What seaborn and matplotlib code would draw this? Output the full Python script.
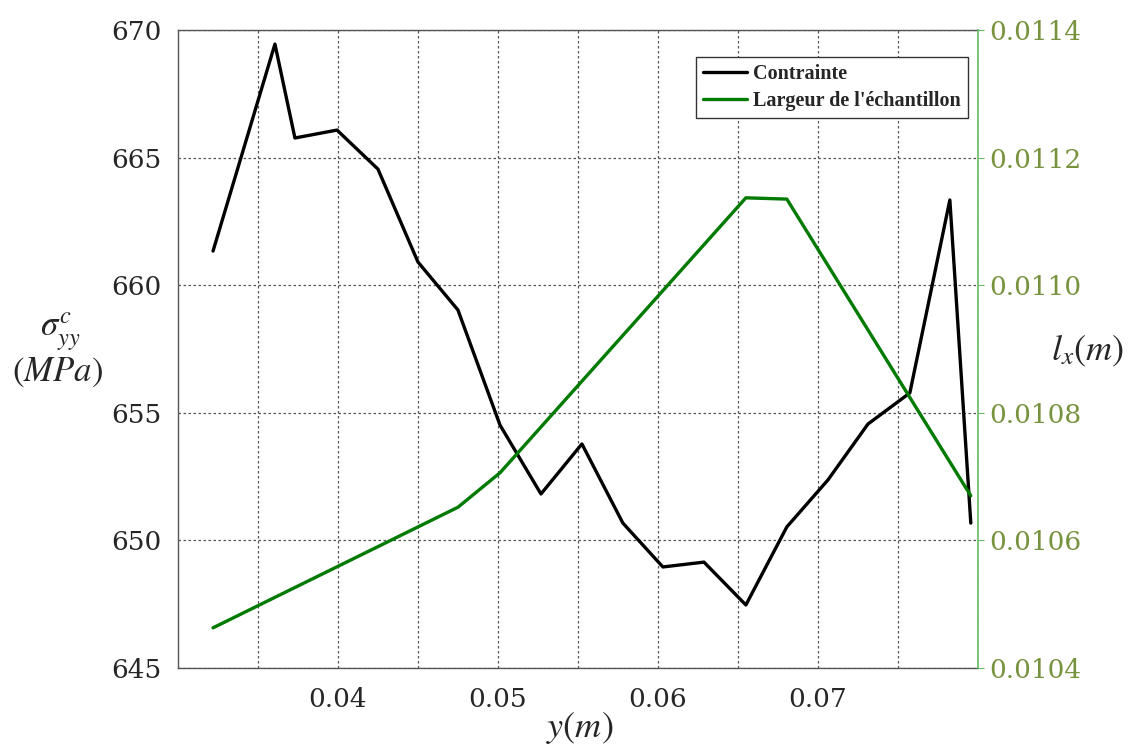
import numpy as np
import pandas as pd
import matplotlib
matplotlib.use("Agg")
import matplotlib.pyplot as plt
from matplotlib.lines import Line2D
import seaborn as sns

# Contrainte (black line)
y_pos = [0.03219, 0.03606, 0.03731, 0.03994, 0.04250, 0.04500, 0.04750,
         0.05013, 0.05269, 0.05525, 0.05781, 0.06031, 0.06288, 0.06550,
         0.06806, 0.07063, 0.07313, 0.07575, 0.07825, 0.07956]
sigma = [661.34, 669.45, 665.77, 666.08, 664.55, 660.91, 659.03,
         654.52, 651.82, 653.78, 650.68, 648.96, 649.15, 647.47,
         650.53, 652.37, 654.56, 655.78, 663.34, 650.68]

# Largeur de l'echantillon (green line)
y_pos_l = [0.03219, 0.04750, 0.05013, 0.06550, 0.06806, 0.07956]
largeur = [0.010463, 0.010652, 0.010706, 0.011137, 0.011135, 0.010670]

x_ticks = [0.04, 0.05, 0.06, 0.07]
left_ticks = [645, 650, 655, 660, 665, 670]
right_ticks = [0.0104, 0.0106, 0.0108, 0.0110, 0.0112, 0.0114]

df1 = pd.DataFrame({"y": y_pos, "sigma": sigma})
df2 = pd.DataFrame({"y": y_pos_l, "lx": largeur})

sns.set_style("white")
plt.rcParams["font.family"] = ["DejaVu Serif", "Liberation Serif"]
plt.rcParams["mathtext.fontset"] = "stix"

olive = "#76923C"
green = "#007A00"

fig = plt.figure(figsize=(11.41, 7.51), dpi=100)
ax = fig.add_axes([0.156, 0.1105, 0.701, 0.8495])
ax2 = ax.twinx()

sns.lineplot(data=df1, x="y", y="sigma", ax=ax, color="black", linewidth=2.4)
sns.lineplot(data=df2, x="y", y="lx", ax=ax2, color=green, linewidth=2.4)

ax.set_xlim(0.03, 0.08)
ax.set_ylim(645, 670)
ax2.set_ylim(0.0104, 0.0114)

grid_x = np.arange(0.035, 0.0801, 0.005)
ax.set_xticks(grid_x)
ax.set_xticklabels(["" if round(t, 3) not in x_ticks else f"{t:.2f}"
                    for t in grid_x])
ax.set_yticks(left_ticks)
ax2.set_yticks(right_ticks)
ax2.set_yticklabels([f"{t:.4f}" for t in right_ticks])

ax.grid(True, linestyle=(0, (2, 2)), color="#555555", linewidth=0.9)
ax2.grid(False)

ax.tick_params(axis="both", labelsize=19, length=0, pad=12)
ax.tick_params(axis="x", pad=14)
ax2.tick_params(axis="y", labelsize=19, length=4, colors="#66BB66",
                labelcolor=olive, pad=4)

for s in ["left", "top", "bottom"]:
    ax.spines[s].set_color("#555555")
    ax.spines[s].set_linewidth(1.0)
ax2.spines["right"].set_color("#66BB66")
ax2.spines["right"].set_linewidth(1.2)
for s in ["left", "top", "bottom"]:
    ax2.spines[s].set_visible(False)
ax.spines["right"].set_visible(False)

ax.set_xlabel("")
ax.set_ylabel("")
ax2.set_ylabel("")

fig.text(0.053, 0.558, r"$\sigma_{yy}^{c}$", fontsize=25, ha="center", va="center")
fig.text(0.050, 0.505, r"$(MPa)$", fontsize=25, ha="center", va="center")
fig.text(0.953, 0.533, r"$l_x(m)$", fontsize=26, ha="center", va="center")
fig.text(0.508, 0.030, r"$y(m)$", fontsize=26, ha="center", va="center")

handles = [Line2D([], [], color="black", linewidth=2.4),
           Line2D([], [], color=green, linewidth=2.4)]
leg = ax2.legend(handles, ["Contrainte", "Largeur de l'échantillon"],
                 loc="upper right", bbox_to_anchor=(0.9875, 0.958),
                 borderaxespad=0, fancybox=False, framealpha=1,
                 edgecolor="#333333", handlelength=2.2, handletextpad=0.3,
                 borderpad=0.35, labelspacing=0.35,
                 prop={"family": "Liberation Serif", "weight": "bold", "size": 14.5})
leg.get_frame().set_linewidth(1.0)

fig.savefig("out.png", dpi=100)
print("saved out.png")
